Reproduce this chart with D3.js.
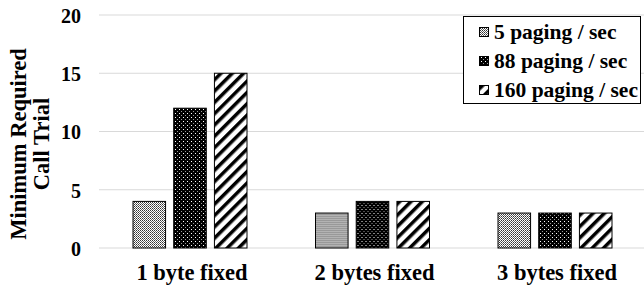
<html lang='en'>
<head>
<meta charset='UTF-8'>
<script src='https://d3js.org/d3.v7.min.js'></script>
<style>
  body { margin: 0; background: white; }
</style>
</head>
<body>
<div id='chart'></div>
<script>
var categories = ['1 byte fixed', '2 bytes fixed', '3 bytes fixed'];
var seriesNames = ['5 paging / sec', '88 paging / sec', '160 paging / sec'];
var series5 = [4, 3, 3];
var series88 = [12, 4, 3];
var series160 = [15, 4, 3];
var yTicks = [0, 5, 10, 15, 20];

var allSeries = [series5, series88, series160];
var W = 644, H = 287;
var FONT = "'Liberation Serif', 'Times New Roman', serif";
var svg = d3.select('#chart').append('svg').attr('width', W).attr('height', H);

// fill patterns
var defs = svg.append('defs');
var p0 = defs.append('pattern').attr('id', 'pat0').attr('patternUnits', 'userSpaceOnUse')
  .attr('width', 2).attr('height', 2);
p0.append('rect').attr('width', 2).attr('height', 2).attr('fill', '#fff');
p0.append('rect').attr('width', 1).attr('height', 1).attr('fill', '#333');
p0.append('rect').attr('x', 1).attr('y', 1).attr('width', 1).attr('height', 1).attr('fill', '#666');

var p1 = defs.append('pattern').attr('id', 'pat1').attr('patternUnits', 'userSpaceOnUse')
  .attr('width', 4).attr('height', 4);
p1.append('rect').attr('width', 4).attr('height', 4).attr('fill', '#000');
p1.append('rect').attr('x', 1).attr('y', 1).attr('width', 1).attr('height', 1).attr('fill', '#fff');
p1.append('rect').attr('x', 3).attr('y', 3).attr('width', 1).attr('height', 1).attr('fill', '#999');

var p2 = defs.append('pattern').attr('id', 'pat2').attr('patternUnits', 'userSpaceOnUse')
  .attr('width', 8).attr('height', 8).attr('patternTransform', 'rotate(45)');
p2.append('rect').attr('width', 8).attr('height', 8).attr('fill', '#fff');
p2.append('rect').attr('width', 3.5).attr('height', 8).attr('fill', '#000');

var fills = ['url(#pat0)', 'url(#pat1)', 'url(#pat2)'];

var x0 = d3.scaleBand().domain(categories).range([98.75, 646.25]);
var x1 = d3.scaleBand().domain([0, 1, 2]).range([-57, 57]).paddingInner(0.2);
var y = d3.scaleLinear().domain([0, 20]).range([248, 15]);

function serif(sel, size) {
  sel.style('font-family', FONT).style('font-weight', 'bold')
    .style('font-size', size + 'px').attr('fill', '#000');
}

// gridlines
svg.append('g').selectAll('line').data(yTicks).enter().append('line')
  .attr('x1', 99).attr('x2', W)
  .attr('y1', function(d){ return y(d); }).attr('y2', function(d){ return y(d); })
  .attr('stroke', '#d9d9d9').attr('stroke-width', 1);

// y axis labels
var yAxis = d3.axisLeft(y).tickValues(yTicks).tickSize(0).tickPadding(0);
var yg = svg.append('g').attr('transform', 'translate(81,1)').call(yAxis);
yg.select('.domain').remove();
serif(yg.selectAll('text'), 20);

// x axis labels
var xAxis = d3.axisBottom(x0).tickSize(0).tickPadding(0);
var xg = svg.append('g').attr('transform', 'translate(2,0)').call(xAxis);
xg.select('.domain').remove();
xg.selectAll('text').attr('y', 280).attr('dy', null);
serif(xg.selectAll('text'), 22.5);

// y title
var yt = svg.append('text').attr('transform', 'translate(26,144) rotate(-90)')
  .attr('text-anchor', 'middle');
serif(yt, 22.5);
yt.append('tspan').attr('x', 0).attr('dy', 0).text('Minimum Required');
yt.append('tspan').attr('x', 0).attr('dy', 23).text('Call Trial');

// bars
var groups = svg.append('g').selectAll('g').data(categories).enter().append('g')
  .attr('transform', function(d){ return 'translate(' + (x0(d) + x0.bandwidth() / 2) + ',0)'; });
groups.selectAll('rect').data(function(d, i){
    return allSeries.map(function(s, k){ return { k: k, v: s[i] }; });
  }).enter().append('rect')
  .attr('x', function(d){ return x1(d.k); })
  .attr('width', x1.bandwidth())
  .attr('y', function(d){ return y(d.v); })
  .attr('height', function(d){ return y(0) - y(d.v); })
  .attr('fill', function(d){ return fills[d.k]; })
  .attr('stroke', '#000').attr('stroke-width', 1);

// legend
var lg = svg.append('g');
lg.append('rect').attr('x', 463.5).attr('y', 16.5).attr('width', 177).attr('height', 87)
  .attr('fill', '#fff').attr('stroke', '#000').attr('stroke-width', 1);
seriesNames.forEach(function(name, i){
  var base = 39 + i * 29;
  lg.append('rect').attr('x', 479.5).attr('y', base - 11.5).attr('width', 9).attr('height', 9)
    .attr('fill', fills[i]).attr('stroke', '#000').attr('stroke-width', 1);
  serif(lg.append('text').attr('x', 494).attr('y', base).text(name), 21.5);
});
</script>
</body>
</html>
